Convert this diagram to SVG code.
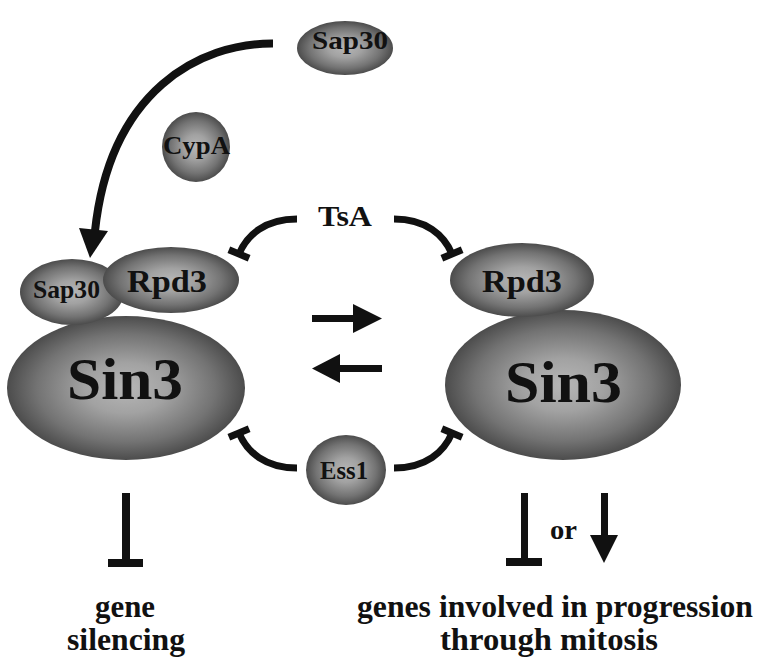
<svg xmlns="http://www.w3.org/2000/svg" width="764" height="666" viewBox="0 0 764 666">
<defs>
<radialGradient id="blob" cx="50%" cy="50%" r="50%">
<stop offset="0" stop-color="#b6b6b6"/>
<stop offset="0.35" stop-color="#a2a2a2"/>
<stop offset="0.75" stop-color="#737373"/>
<stop offset="1" stop-color="#4c4c4c"/>
</radialGradient>
<marker id="tbar" markerUnits="userSpaceOnUse" markerWidth="30" markerHeight="30" viewBox="-15 -15 30 30" refX="0" refY="0" orient="auto">
<rect x="-3.5" y="-11" width="7" height="22" fill="#111"/>
</marker>
</defs>
<style>
.blob{fill:url(#blob);}
text{font-family:"Liberation Serif","Times New Roman",serif;font-weight:bold;fill:#111;text-anchor:middle;}
.conn{fill:none;stroke:#111;}
.solid{fill:#111;}
</style>
<rect width="764" height="666" fill="#fff"/>

<g id="connectors">
<path class="conn" d="M273,43.5 C200,43 110,90 95,231" stroke-width="8"/>
<polygon class="solid" points="79,228 108,231 90,258"/>
<path class="conn" d="M297,219 C265,219 247,235 239,254" stroke-width="7" marker-end="url(#tbar)"/>
<path class="conn" d="M394,219 C426,219 444,235 452,254" stroke-width="7" marker-end="url(#tbar)"/>
<path class="conn" d="M297,468 C265,468 247,452 239,433" stroke-width="7" marker-end="url(#tbar)"/>
<path class="conn" d="M394,468 C426,468 444,452 452,433" stroke-width="7" marker-end="url(#tbar)"/>
<rect class="solid" x="312" y="315" width="43" height="7"/>
<polygon class="solid" points="353,304 382,318.5 353,333"/>
<rect class="solid" x="338" y="365" width="44" height="7"/>
<polygon class="solid" points="340,354 312,368.5 340,383"/>
<rect class="solid" x="122" y="493" width="8" height="70"/>
<rect class="solid" x="108" y="559" width="35" height="8"/>
<rect class="solid" x="521" y="493" width="7" height="68"/>
<rect class="solid" x="506" y="558" width="36" height="8"/>
<rect class="solid" x="601" y="493" width="7" height="44"/>
<polygon class="solid" points="590,535 618,535 604,563"/>
</g>

<g id="sap30-free">
<ellipse class="blob" cx="345" cy="48" rx="48" ry="27"/>
<text x="350" y="49" font-size="26" textLength="76" lengthAdjust="spacingAndGlyphs">Sap30</text>
</g>
<g id="cypa">
<ellipse class="blob" cx="196" cy="147" rx="34" ry="35"/>
<text x="196.5" y="154" font-size="26" textLength="67" lengthAdjust="spacingAndGlyphs">CypA</text>
</g>
<g id="tsa">
<text x="345" y="226" font-size="30" textLength="54" lengthAdjust="spacingAndGlyphs">TsA</text>
</g>
<g id="ess1">
<ellipse class="blob" cx="346" cy="470" rx="40" ry="35"/>
<text x="344" y="479" font-size="26" textLength="48" lengthAdjust="spacingAndGlyphs">Ess1</text>
</g>

<g id="left-sin3">
<ellipse class="blob" cx="126" cy="388" rx="119" ry="72"/>
<text x="125" y="399" font-size="60" textLength="116" lengthAdjust="spacingAndGlyphs">Sin3</text>
</g>
<g id="left-sap30">
<ellipse class="blob" cx="72" cy="292" rx="52" ry="33"/>
<text x="66.5" y="298" font-size="25" textLength="67" lengthAdjust="spacingAndGlyphs">Sap30</text>
</g>
<g id="left-rpd3">
<ellipse class="blob" cx="171" cy="280" rx="68" ry="33"/>
<text x="167" y="292" font-size="32" textLength="80" lengthAdjust="spacingAndGlyphs">Rpd3</text>
</g>

<g id="right-sin3">
<ellipse class="blob" cx="563" cy="385" rx="118" ry="75"/>
<text x="563.5" y="402" font-size="60" textLength="117" lengthAdjust="spacingAndGlyphs">Sin3</text>
</g>
<g id="right-rpd3">
<ellipse class="blob" cx="522" cy="280" rx="72" ry="37"/>
<text x="522" y="292" font-size="32" textLength="80" lengthAdjust="spacingAndGlyphs">Rpd3</text>
</g>

<g id="or-label">
<text x="563.5" y="539" font-size="27" textLength="27" lengthAdjust="spacingAndGlyphs">or</text>
</g>
<g id="gene-silencing">
<text x="125" y="617" font-size="31" textLength="60" lengthAdjust="spacingAndGlyphs">gene</text>
<text x="126" y="650" font-size="31" textLength="118" lengthAdjust="spacingAndGlyphs">silencing</text>
</g>
<g id="mitosis-genes">
<text x="555" y="617" font-size="31" textLength="396" lengthAdjust="spacingAndGlyphs">genes involved in progression</text>
<text x="549" y="650" font-size="31" textLength="218" lengthAdjust="spacingAndGlyphs">through mitosis</text>
</g>
</svg>
